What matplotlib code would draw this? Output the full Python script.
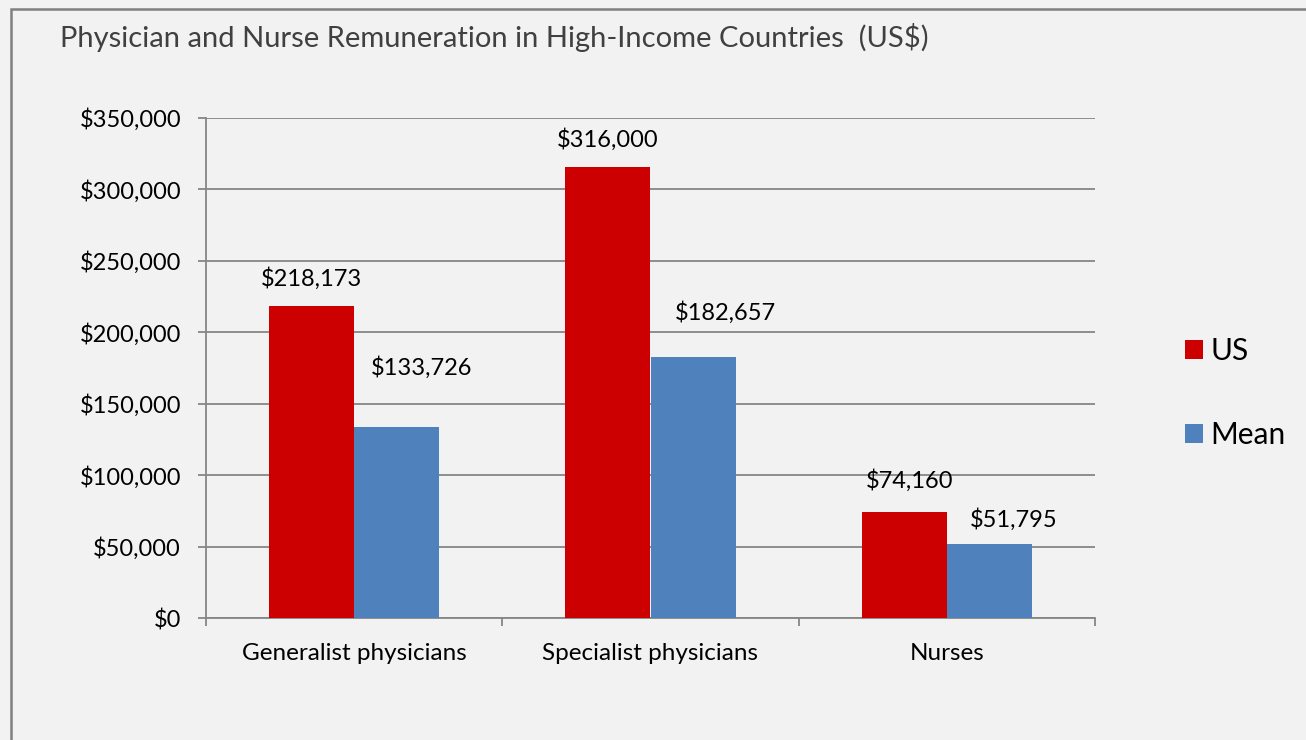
import matplotlib.pyplot as plt
import numpy as np
from matplotlib.patches import Rectangle
from matplotlib.ticker import FuncFormatter

plt.rcParams['font.family'] = ['Lato', 'DejaVu Sans']

categories = ['Generalist physicians', 'Specialist physicians', 'Nurses']
us_values = [218173, 316000, 74160]
mean_values = [133726, 182657, 51795]
series_names = ['US', 'Mean']

# label offsets in pixels (dx, dy from bar top centre)
us_offsets = [(0, 28), (0, 27), (5, 32)]
mean_offsets = [(25, 59), (32, 45), (24, 24)]

bg = '#f2f2f2'
red = '#cc0000'
blue = '#4f81bd'
grid_col = '#868686'

fig = plt.figure(figsize=(13.06, 7.40), dpi=100, facecolor=bg)
ax = fig.add_axes([206 / 1306, 1 - 618 / 740, (1095 - 206) / 1306, 500 / 740])
ax.set_facecolor(bg)

x = np.arange(len(categories))
w = 0.287
b1 = ax.bar(x - w / 2, us_values, w, color=red, label=series_names[0], zorder=3)
b2 = ax.bar(x + w / 2, mean_values, w, color=blue, label=series_names[1], zorder=3)

for bars, vals, offs in [(b1, us_values, us_offsets), (b2, mean_values, mean_offsets)]:
    for bar, v, (dx, dy) in zip(bars, vals, offs):
        ax.annotate('${:,}'.format(v), (bar.get_x() + bar.get_width() / 2, v),
                    xytext=(dx, dy), textcoords='offset pixels',
                    ha='center', va='center', fontsize=17, color='#000000')

ax.set_xlim(-0.5, 2.5)
ax.set_ylim(0, 350000)
ax.set_yticks(np.arange(0, 350001, 50000))
ax.yaxis.set_major_formatter(FuncFormatter(lambda v, p: '${:,.0f}'.format(v)))
ax.set_xticks([-0.5, 0.5, 1.5, 2.5])
ax.set_xticklabels([])
ax.set_xticks(x, minor=True)
ax.set_xticklabels(categories, minor=True)
ax.tick_params(axis='x', which='minor', length=0, pad=18, labelsize=17.5)
ax.tick_params(axis='x', which='major', length=6, width=1.3, color=grid_col, direction='out')
ax.tick_params(axis='y', length=6, width=1.3, color=grid_col, labelsize=17, pad=12)

ax.grid(axis='y', color=grid_col, linewidth=1.3, zorder=0)
for s in ['top', 'right']:
    ax.spines[s].set_visible(False)
for s in ['left', 'bottom']:
    ax.spines[s].set_color(grid_col)
    ax.spines[s].set_linewidth(1.3)

fig.text(60 / 1306, 1 - 38 / 740, 'Physician and Nurse Remuneration in High-Income Countries  (US$)',
         fontsize=21, color='#404040', va='center', ha='left')

leg = fig.legend(loc='center left', bbox_to_anchor=(1185 / 1306, 1 - 393 / 740),
                 frameon=False, fontsize=21.5, handlelength=0.6, handleheight=0.6,
                 handletextpad=0.25, labelspacing=1.85, borderpad=0, borderaxespad=0)

fig.add_artist(Rectangle((11 / 1306, -0.1), 2, 1.1 - 9 / 740, transform=fig.transFigure,
                         fill=False, edgecolor='#808080', linewidth=1.8))

fig.savefig('out.png', dpi=100, facecolor=bg)
